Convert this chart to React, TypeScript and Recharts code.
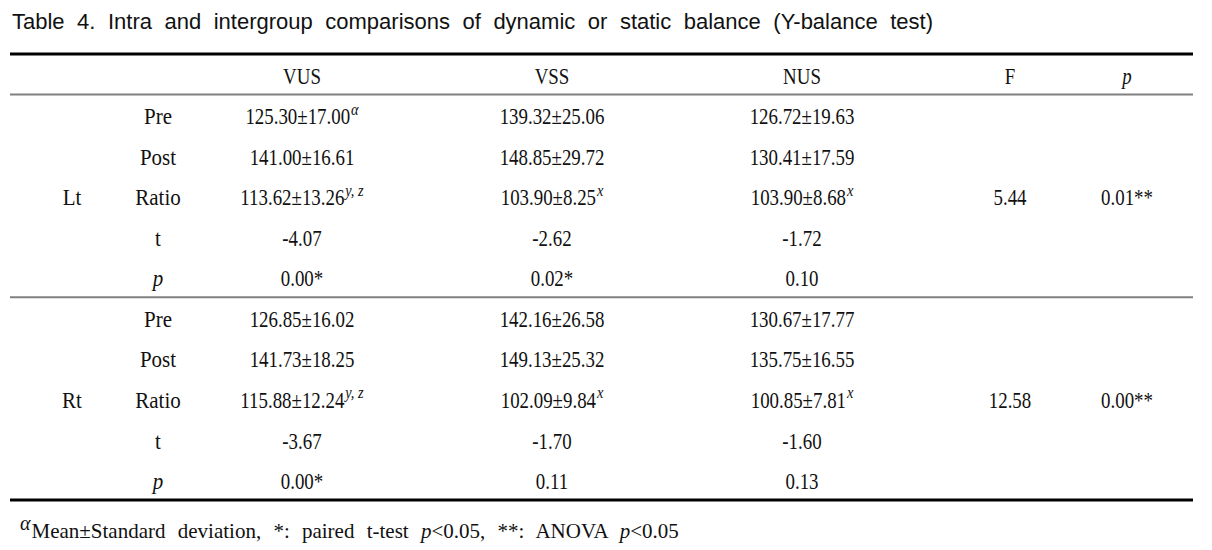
import React from "react";
import { ScatterChart, Scatter, XAxis, YAxis, ReferenceLine } from "recharts";

// Table 4 - Y-balance test, intra/intergroup comparisons
const title =
  "Table 4. Intra and intergroup comparisons of dynamic or static balance (Y-balance test)";

const groups = ["VUS", "VSS", "NUS"];
const sides = ["Lt", "Rt"];
const measures = ["Pre", "Post", "Ratio", "t", "p"];

const ltVUS = ["125.30±17.00", "141.00±16.61", "113.62±13.26", "-4.07", "0.00*"];
const ltVSS = ["139.32±25.06", "148.85±29.72", "103.90±8.25", "-2.62", "0.02*"];
const ltNUS = ["126.72±19.63", "130.41±17.59", "103.90±8.68", "-1.72", "0.10"];

const rtVUS = ["126.85±16.02", "141.73±18.25", "115.88±12.24", "-3.67", "0.00*"];
const rtVSS = ["142.16±26.58", "149.13±25.32", "102.09±9.84", "-1.70", "0.11"];
const rtNUS = ["130.67±17.77", "135.75±16.55", "100.85±7.81", "-1.60", "0.13"];

// superscripts per row (Pre, Post, Ratio, t, p)
const ltVUSSup = ["α", "", "y, z", "", ""];
const ltVSSSup = ["", "", "x", "", ""];
const ltNUSSup = ["", "", "x", "", ""];
const rtVUSSup = ["", "", "y, z", "", ""];
const rtVSSSup = ["", "", "x", "", ""];
const rtNUSSup = ["", "", "x", "", ""];

const fValues = ["5.44", "12.58"];
const anovaP = ["0.01**", "0.00**"];

// layout: column centres on the x scale (plot spans 0..1183)
const colX: Record<string, number> = {
  side: 62,
  measure: 148,
  VUS: 292,
  VSS: 542,
  NUS: 792,
  F: 1000,
  p: 1117,
};

type Cell = {
  x: number;
  y: number;
  text: string;
  sup?: string;
  italic?: boolean;
  label?: boolean;
};

const cells: Cell[] = [];
groups.forEach((g) => cells.push({ x: colX[g], y: 0, text: g }));
cells.push({ x: colX.F, y: 0, text: "F" });
cells.push({ x: colX.p, y: 0, text: "p", italic: true });

const sideData = [
  { vals: [ltVUS, ltVSS, ltNUS], sups: [ltVUSSup, ltVSSSup, ltNUSSup] },
  { vals: [rtVUS, rtVSS, rtNUS], sups: [rtVUSSup, rtVSSSup, rtNUSSup] },
];

sides.forEach((s, si) => {
  const base = 1 + si * measures.length;
  cells.push({ x: colX.side, y: base + 2, text: s, label: true });
  cells.push({ x: colX.F, y: base + 2, text: fValues[si] });
  cells.push({ x: colX.p, y: base + 2, text: anovaP[si] });
  measures.forEach((m, mi) => {
    cells.push({ x: colX.measure, y: base + mi, text: m, italic: m === "p", label: true });
    groups.forEach((g, gi) => {
      cells.push({
        x: colX[g],
        y: base + mi,
        text: sideData[si].vals[gi][mi],
        sup: sideData[si].sups[gi][mi],
      });
    });
  });
});

const serif = "'Liberation Serif', 'Times New Roman', serif";
const FS = 21;

const CellText = (props: any) => {
  const { cx, cy, payload } = props;
  const sx = payload.label ? 1 : 0.9;
  return (
    <text
      transform={`translate(${cx},${cy + FS * 0.35 + 2}) scale(${sx},1.06)`}
      textAnchor="middle"
      fontFamily={serif}
      fontSize={FS}
      fill="#111"
      fontStyle={payload.italic ? "italic" : "normal"}
    >
      {payload.text}
      {payload.sup ? (
        <tspan dx={1} dy={-9} fontSize={16} fontStyle="italic">
          {payload.sup}
        </tspan>
      ) : null}
    </text>
  );
};

export default function App() {
  return (
    <div style={{ position: "relative", width: 1196, height: 542, background: "#fff" }}>
      <div
        style={{
          position: "absolute",
          left: 4,
          top: 1,
          width: 921,
          fontFamily: "'Liberation Sans', Arial, sans-serif",
          fontSize: 22,
          lineHeight: "26px",
          color: "#111",
          textAlign: "justify",
          textAlignLast: "justify",
          whiteSpace: "nowrap",
        }}
      >
        {title}
      </div>
      <div style={{ position: "absolute", left: 0, top: 0 }}>
        <ScatterChart
          width={1196}
          height={534}
          margin={{ top: 46, right: 11, bottom: 42, left: 2 }}
        >
          <XAxis type="number" dataKey="x" domain={[0, 1183]} hide />
          <YAxis type="number" dataKey="y" domain={[-0.5, 10.5]} reversed hide width={0} />
          <ReferenceLine y={-0.5} stroke="#000" strokeWidth={3} ifOverflow="visible" />
          <ReferenceLine y={0.5} stroke="#808080" strokeWidth={2} ifOverflow="visible" />
          <ReferenceLine y={5.5} stroke="#808080" strokeWidth={2} ifOverflow="visible" />
          <ReferenceLine y={10.5} stroke="#000" strokeWidth={3} ifOverflow="visible" />
          <Scatter data={cells} shape={CellText} isAnimationActive={false} />
        </ScatterChart>
      </div>
      <div
        style={{
          position: "absolute",
          left: 12,
          top: 510,
          fontFamily: serif,
          fontSize: 21,
          lineHeight: "26px",
          color: "#111",
          whiteSpace: "nowrap",
          wordSpacing: 7,
        }}
      >
        <span
          style={{
            fontStyle: "italic",
            fontSize: 20,
            position: "relative",
            top: -8,
            marginRight: 1,
          }}
        >
          α
        </span>
        Mean±Standard deviation, *: paired t-test <i>p</i>&lt;0.05, **: ANOVA <i>p</i>&lt;0.05
      </div>
    </div>
  );
}
